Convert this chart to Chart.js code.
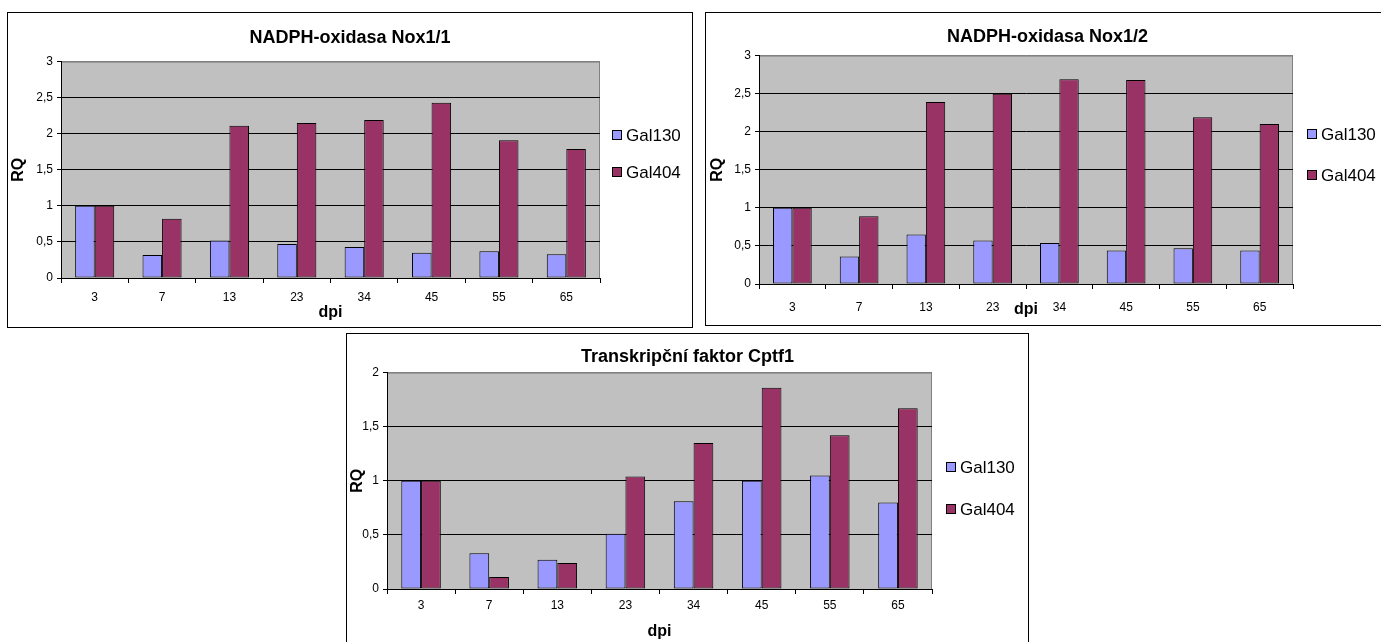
<!DOCTYPE html>
<html>
<head>
<meta charset="utf-8">
<script src="https://cdn.jsdelivr.net/npm/chart.js@4"></script>
<style>
  body { margin: 0; background: #fff; width: 1381px; height: 642px; overflow: hidden; position: relative; }
  .box { position: absolute; border: 1px solid #000; background: #fff; }
  canvas { display: block; }
</style>
</head>
<body>
<div class="box" style="left:7px; top:12px;"><canvas id="nox11" width="684" height="314"></canvas></div>
<div class="box" style="left:705px; top:12px;"><canvas id="nox12" width="683" height="312"></canvas></div>
<div class="box" style="left:346px; top:333px;"><canvas id="cptf1" width="681" height="310"></canvas></div>
<script>
var dpi = ['3', '7', '13', '23', '34', '45', '55', '65'];
var seriesNames = ['Gal130', 'Gal404'];

var nox11Gal130 = [1, 0.32, 0.52, 0.47, 0.43, 0.35, 0.37, 0.33];
var nox11Gal404 = [1, 0.82, 2.11, 2.15, 2.19, 2.43, 1.91, 1.79];

var nox12Gal130 = [1, 0.36, 0.65, 0.57, 0.54, 0.44, 0.47, 0.44];
var nox12Gal404 = [1, 0.89, 2.39, 2.5, 2.69, 2.68, 2.19, 2.1];

var cptf1Gal130 = [1, 0.33, 0.27, 0.51, 0.81, 1.0, 1.05, 0.8];
var cptf1Gal404 = [1, 0.11, 0.24, 1.04, 1.35, 1.86, 1.42, 1.67];

var FONT = "'Liberation Sans', Arial, sans-serif";
Chart.defaults.font.family = FONT;
Chart.defaults.color = '#000';

// grey plot area + grey frame, like the old Excel charts
var plotBg = {
  id: 'plotBg',
  beforeDraw: function(chart) {
    var a = chart.chartArea, ctx = chart.ctx;
    ctx.save();
    ctx.fillStyle = '#c0c0c0';
    ctx.fillRect(a.left, a.top, a.right - a.left, a.bottom - a.top);
    ctx.strokeStyle = '#808080';
    ctx.lineWidth = 1;
    ctx.strokeRect(a.left + 0.5, a.top + 0.5, a.right - a.left - 1, a.bottom - a.top);
    ctx.restore();
  }
};

// legend drawn to the right of the plot
var sideLegend = {
  id: 'sideLegend',
  afterDraw: function(chart, args, opts) {
    var ctx = chart.ctx;
    var x = chart.chartArea.right + opts.dx;
    ctx.save();
    ctx.font = '17px ' + FONT;
    ctx.textBaseline = 'middle';
    chart.data.datasets.forEach(function(ds, i) {
      var y = opts.ys[i];
      ctx.fillStyle = ds.backgroundColor;
      ctx.fillRect(x, y - 5, 10, 10);
      ctx.strokeStyle = '#000';
      ctx.lineWidth = 1;
      ctx.strokeRect(x + 0.5, y - 4.5, 9, 9);
      ctx.fillStyle = '#000';
      ctx.fillText(ds.label, x + 14, y + 1);
    });
    ctx.restore();
  }
};

function makeChart(id, title, a, b, cfg) {
  var canvas = document.getElementById(id);
  return new Chart(canvas.getContext('2d'), {
    type: 'bar',
    data: {
      labels: dpi,
      datasets: [{
        label: seriesNames[0],
        data: a,
        backgroundColor: '#9999ff',
        borderColor: '#000',
        borderWidth: 1,
        borderSkipped: false,
        barPercentage: 1,
        categoryPercentage: 0.58
      }, {
        label: seriesNames[1],
        data: b,
        backgroundColor: '#993366',
        borderColor: '#000',
        borderWidth: 1,
        borderSkipped: false,
        barPercentage: 1,
        categoryPercentage: 0.58
      }]
    },
    options: {
      responsive: false,
      animation: false,
      devicePixelRatio: 1,
      layout: { padding: 0 },
      plugins: {
        legend: { display: false },
        tooltip: { enabled: false },
        title: {
          display: true,
          text: title,
          font: { size: 18, weight: 'bold' },
          color: '#000',
          padding: { top: cfg.titleTop, bottom: cfg.titleBottom }
        },
        sideLegend: { dx: cfg.legendDx, ys: cfg.legendYs }
      },
      scales: {
        x: {
          afterFit: function(s) { s.height = canvas.height - cfg.plotBottom; },
          grid: { offset: true, drawOnChartArea: false, tickLength: 5, tickColor: '#000' },
          border: { color: '#000' },
          ticks: { font: { size: 12 }, padding: cfg.xPad, color: '#000' },
          title: {
            display: true, text: 'dpi',
            font: { size: 16, weight: 'bold' },
            padding: { top: 0, bottom: cfg.dpiPad }
          }
        },
        y: {
          min: 0,
          max: cfg.yMax,
          afterFit: function(s) { s.width = cfg.plotLeft; },
          grid: {
            color: function(c) { return c.tick && c.tick.value === cfg.yMax ? '#808080' : '#000'; },
            tickLength: 4,
            tickColor: '#000'
          },
          border: { color: '#000' },
          ticks: {
            stepSize: 0.5,
            padding: 4,
            font: { size: 12 },
            color: '#000',
            callback: function(v) { return String(v).replace('.', ','); }
          },
          title: {
            display: true, text: 'RQ',
            font: { size: 16, weight: 'bold' },
            padding: { top: cfg.rqPad, bottom: 0 }
          }
        },
        // empty right-hand box that keeps room for the legend
        legendRoom: {
          type: 'linear',
          position: 'right',
          display: true,
          afterFit: function(s) { s.width = canvas.width - cfg.plotRight; },
          grid: { display: false },
          border: { display: false },
          ticks: { display: false }
        }
      }
    },
    plugins: [plotBg, sideLegend]
  });
}

makeChart('nox11', 'NADPH-oxidasa Nox1/1', nox11Gal130, nox11Gal404, {
  plotLeft: 53, plotRight: 592, plotBottom: 265, yMax: 3,
  titleTop: 14, titleBottom: 13, xPad: 7, dpiPad: 5, rqPad: 1,
  legendDx: 12, legendYs: [122, 159]
});

makeChart('nox12', 'NADPH-oxidasa Nox1/2', nox12Gal130, nox12Gal404, {
  plotLeft: 53, plotRight: 587, plotBottom: 271, yMax: 3,
  titleTop: 13, titleBottom: 8, xPad: 11, dpiPad: 6, rqPad: 2,
  legendDx: 14, legendYs: [121, 162]
});

makeChart('cptf1', 'Transkripční faktor Cptf1', cptf1Gal130, cptf1Gal404, {
  plotLeft: 40, plotRight: 585, plotBottom: 255, yMax: 2,
  titleTop: 12, titleBottom: 5, xPad: 4, dpiPad: 3, rqPad: 1,
  legendDx: 14, legendYs: [133, 175]
});
</script>
</body>
</html>
